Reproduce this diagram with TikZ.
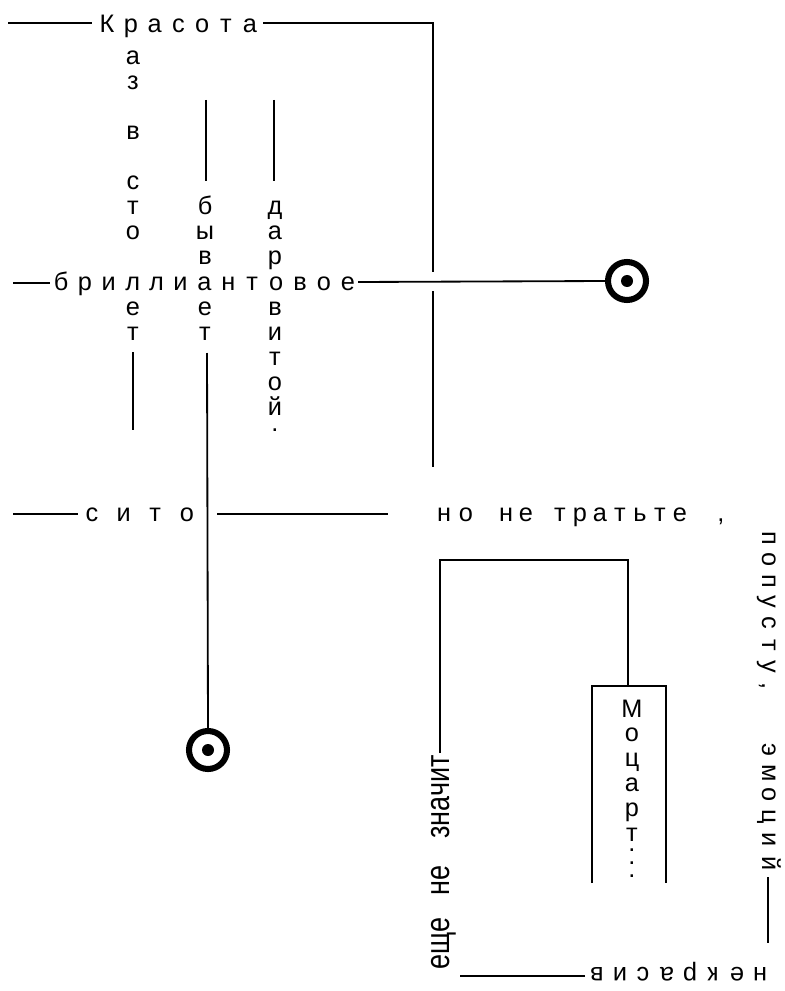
\documentclass[tikz,border=0pt]{standalone}
\usepackage{fontspec}
\setmainfont{Liberation Sans}
\newfontfamily\strettofont[FakeStretch=0.8]{Liberation Sans}

\tikzset{
  lettera/.style={inner sep=0pt, anchor=base, font=\fontsize{18}{20}\selectfont},
  tratto/.style={line width=1.3pt},
  anello/.style={line width=4.3pt},
}

\begin{document}
\begin{tikzpicture}[x=0.025cm,y=-0.025cm]
	\useasboundingbox (0,0) rectangle (784,991);
	\begin{scope}
	  % riga Красота
	  \foreach \lt [count=\i from 0] in {К,р,а,с,о,т,а}
	    \node[lettera] (kr\i) at (107+23.8*\i,33) {\lt};
	  \draw[tratto] (8,23) -- (92,23);
	  \draw[tratto] (263,23) -- (433,23) -- (433,272);
	  \draw[tratto] (433,291) -- (433,467);

	  % riga бриллиантовое
	  \foreach \lt [count=\i from 0] in {б,р,и,л,л,и,а,н,т,о,в,о,е}
	    \node[lettera] (br\i) at (61+23.9*\i,290) {\lt};
	  \draw[tratto] (13,283) -- (50,283);
	  \coordinate (occhio1) at (627,281);
	  \draw[tratto] (358,282) -- ([xshift=-0.55cm]occhio1);
	  \draw[anello] (occhio1) circle (0.475cm);
	  \fill (occhio1) circle (0.15cm);

	  % colonne
	  \foreach \lt/\r in {а/1,з/2,в/4,с/6,т/7,о/8,е/11,т/12}
	    \node[lettera] (ca\r) at (133,39+25.1*\r) {\lt};
	  \foreach \lt/\r in {б/7,ы/8,в/9,е/11,т/12}
	    \node[lettera] (cb\r) at (205,39+25.1*\r) {\lt};
	  \foreach \lt/\r in {д/7,а/8,р/9,в/11,и/12,т/13,о/14,й/15}
	    \node[lettera] (cc\r) at (275,39+25.1*\r) {\lt};
	  \node[lettera] (punto) at (275,431) {.};
	  \draw[tratto] (206,100) -- (206,181);
	  \draw[tratto] (274,100) -- (274,181);
	  \draw[tratto] (133,352) -- (133,430);
	  \coordinate (occhio2) at (208,750);
	  \draw[tratto] (207,353) -- ([yshift=0.55cm]occhio2);
	  \draw[anello] (occhio2) circle (0.475cm);
	  \fill (occhio2) circle (0.15cm);

	  % riga сито
	  \foreach \lt [count=\i from 0] in {с,и,т,о}
	    \node[lettera] (si\i) at (92+31.6*\i,521) {\lt};
	  \draw[tratto] (13,514) -- (78,514);
	  \draw[tratto] (217,514) -- (388,514);

	  % но не тратьте,
	  \foreach \lt/\x in {н/444,о/466,н/506,е/526,т/560,р/580,а/600,т/620,ь/640,т/660,е/680}
	    \node[lettera] (nt\x) at (\x,521) {\lt};
	  \node[lettera] (virgola) at (721,521) {,};

	  % попусту, эмоций
	  \foreach \lt/\y in {п/538,о/560,п/581,у/602,с/623,т/645,у/667}
	    \node[lettera,rotate=-90] (pp\y) at (762,\y) {\lt};
	  \node[lettera,rotate=-90] (virgola2) at (762,686) {,};
	  \foreach \lt/\y in {э/750,м/773,о/795,ц/817,и/840,й/864}
	    \node[lettera,rotate=-90] (em\y) at (762,\y) {\lt};
	  \draw[tratto] (768,877) -- (768,943);

	  % некрасив, capovolto
	  \foreach \lt/\x in {н/760,е/737,к/713,р/690,а/667,с/643,и/620,в/597}
	    \node[lettera,rotate=180] (nk\x) at (\x,967) {\lt};
	  \draw[tratto] (585,976) -- (460,976);

	  % еще не значит
	  \node[inner sep=0pt, anchor=base west, rotate=90, font=\strettofont\fontsize{24}{28}\selectfont]
	    (esz) at (449,970) {еще\hspace{16pt}не\hspace{19pt}значит};
	  \draw[tratto] (440,753) -- (440,560) -- (628,560) -- (628,686);

	  % Моцарт...
	  \draw[tratto] (592,883) -- (592,686) -- (666,686) -- (666,883);
	  \foreach \lt/\r in {М/0,о/1,ц/2,а/3,р/4,т/5}
	    \node[lettera] (mo\r) at (632,717+24.8*\r) {\lt};
	  \node[lettera, anchor=north, align=center, font=\fontsize{18}{8.9}\selectfont]
	    (puntini) at (632,849) {.\\.\\.};
	\end{scope}
\end{tikzpicture}
\end{document}
